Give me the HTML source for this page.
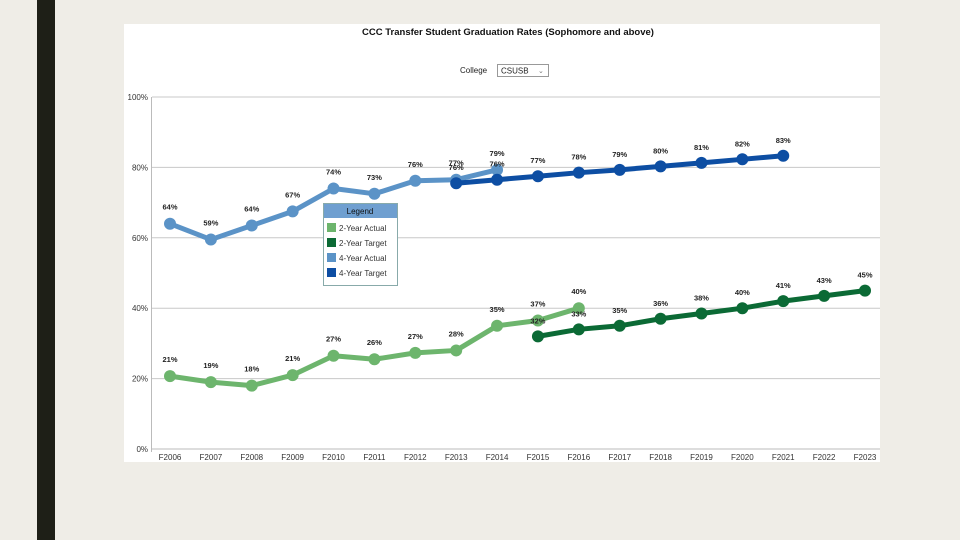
<!DOCTYPE html>
<html><head><meta charset="utf-8"><style>
body{margin:0;width:960px;height:540px;background:#efede7;position:relative;overflow:hidden;font-family:"Liberation Sans",sans-serif}
#bar{position:absolute;left:37px;top:0;width:18px;height:540px;background:#1e1f17}
#card{position:absolute;left:124px;top:24px;width:756px;height:438px;background:#fff}
</style></head><body>
<div id="bar"></div>
<div id="card"></div>
<svg id="chart" width="960" height="540" style="position:absolute;left:0;top:0" font-family="Liberation Sans, sans-serif">
<text x="508" y="35" text-anchor="middle" font-size="9.5" font-weight="bold" fill="#111">CCC Transfer Student Graduation Rates (Sophomore and above)</text>
<text x="460" y="73" font-size="8" fill="#222">College</text>
<g><rect x="497.5" y="64.5" width="51" height="12" fill="#fff" stroke="#999"/><text x="501" y="73.5" font-size="8" fill="#222">CSUSB</text><text x="538" y="73" font-size="7" fill="#777">⌄</text></g>
<g id="grid"></g><g id="series"></g><g id="labels"></g>
<g>
<rect x="323.5" y="203.5" width="74" height="82" fill="#fff" stroke="#8aa"/>
<rect x="324" y="204" width="73" height="14" fill="#6f9fd0"/>
<text x="360" y="214" text-anchor="middle" font-size="8" fill="#111">Legend</text>
<g id="legend-items"></g>
</g>
</svg>
<script>
const categories=["F2006","F2007","F2008","F2009","F2010","F2011","F2012","F2013","F2014","F2015","F2016","F2017","F2018","F2019","F2020","F2021","F2022","F2023"];
const yTicks=[0,20,40,60,80,100];
const twoActualStart=0;
const twoActual=[20.7,19,18,21,26.5,25.5,27.3,28,35,36.5,40];
const twoActualLabels=["21%","19%","18%","21%","27%","26%","27%","28%","35%","37%","40%"];
const twoTargetStart=9;
const twoTarget=[32,34,35,37,38.5,40,42,43.5,45];
const twoTargetLabels=["32%","33%","35%","36%","38%","40%","41%","43%","45%"];
const fourActualStart=0;
const fourActual=[64,59.5,63.5,67.5,74,72.5,76.2,76.5,79.3];
const fourActualLabels=["64%","59%","64%","67%","74%","73%","76%","77%","79%"];
const fourTargetStart=7;
const fourTarget=[75.5,76.5,77.5,78.5,79.3,80.3,81.3,82.3,83.3];
const fourTargetLabels=["76%","76%","77%","78%","79%","80%","81%","82%","83%"];
const NS="http://www.w3.org/2000/svg";
const x=i=>170+i*(865-170)/17;
const y=v=>449-v*3.52;
function mk(t,a,p){const e=document.createElementNS(NS,t);for(const k in a)e.setAttribute(k,a[k]);p.appendChild(e);return e;}
const grid=document.getElementById('grid');
yTicks.forEach(v=>{
 const l=mk('line',{x1:152,x2:880,y1:y(v),y2:y(v),stroke:v==0?'#bbb':'#c8c8c8','stroke-width':1},grid);
 
 
 const t=mk('text',{x:148,y:y(v)+3,'text-anchor':'end','font-size':8,fill:'#333'},grid);t.textContent=v+'%';
 
 
});
mk('line',{x1:151.5,x2:151.5,y1:97,y2:452,stroke:'#bbb'},grid);
categories.forEach((c,i)=>{const t=mk('text',{x:x(i),y:460,'text-anchor':'middle','font-size':8,fill:'#333'},grid);t.textContent=c;
 
 });
const S=document.getElementById('series'),L=document.getElementById('labels');
function draw(vals,start,labs,color,name,dy){
 const pts=vals.map((v,i)=>x(start+i)+','+y(v)).join(' ');
 const pl=mk('polyline',{points:pts,fill:'none',stroke:color,'stroke-width':5,'stroke-linejoin':'round'},S);
 
 
 vals.forEach((v,i)=>{const c=mk('circle',{cx:x(start+i),cy:y(v),r:6,fill:color},S);
  
  
  const t=mk('text',{x:x(start+i),y:y(v)+dy,'text-anchor':'middle','font-size':7.5,'font-weight':'bold',fill:'#222'},L);t.textContent=labs[i];
  
  });
}
draw(fourActual,fourActualStart,fourActualLabels,'#5b93c7','four-year-actual',-14);
draw(fourTarget,fourTargetStart,fourTargetLabels,'#0d4ea3','four-year-target',-13);
draw(twoActual,twoActualStart,twoActualLabels,'#6db56d','two-year-actual',-14);
draw(twoTarget,twoTargetStart,twoTargetLabels,'#0b6a35','two-year-target',-13);
const li=document.getElementById('legend-items');
[['2-Year Actual','#6db56d'],['2-Year Target','#0b6a35'],['4-Year Actual','#5b93c7'],['4-Year Target','#0d4ea3']].forEach((d,i)=>{
 const g=mk('g',{},li);
 
 
 mk('rect',{x:327,y:223+i*15,width:9,height:9,fill:d[1]},g);
 const t=mk('text',{x:339,y:231+i*15,'font-size':8,fill:'#333'},g);t.textContent=d[0];
});
</script>
</body></html>
